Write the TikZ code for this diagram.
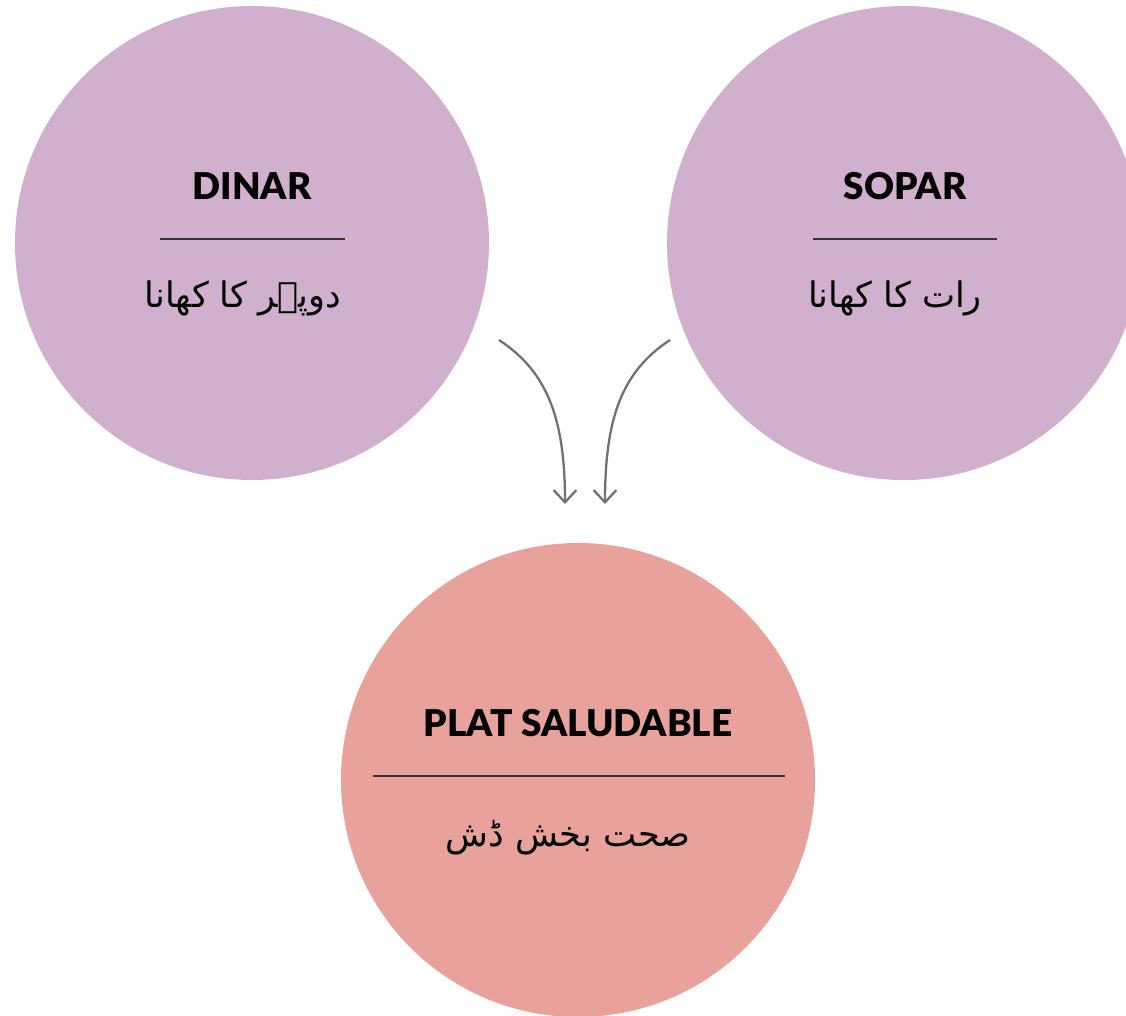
\documentclass[tikz,border=0pt]{standalone}
\usepackage{fontspec}
\setmainfont{Lato}[BoldFont={Lato Black}]
\newfontfamily\urdufont[Script=Arabic]{DejaVu Sans}
\TeXXeTstate=1
\usepackage{tikz}
\usetikzlibrary{arrows.meta,positioning}

\definecolor{mealpurple}{HTML}{D1B0CD}
\definecolor{dishpink}{HTML}{E8A19B}
\definecolor{arrowgrey}{HTML}{707070}

\tikzset{
    meal/.style={circle, draw=none, fill=mealpurple, minimum size=474*0.02cm, inner sep=0pt},
    dish/.style={meal, fill=dishpink},
    title/.style={draw=none, font=\fontsize{21}{24}\selectfont\bfseries},
    urdu/.style={draw=none, font=\fontsize{20}{26}\selectfont\urdufont},
    rule/.style={draw=black!80, line width=0.6pt},
    flow/.style={draw=arrowgrey, line width=1.3pt, -{Straight Barb[length=7pt,width=13pt,line width=1.3pt]}}
}

\begin{document}
\begin{tikzpicture}[x=0.02cm, y=-0.02cm, node distance=1cm, auto]
    	\useasboundingbox (0,0) rectangle (1126,1015);
    	\clip (0,0) rectangle (1126,1015);

    	% three circles
    	\node[meal] (lunch) at (252,243) {};
    	\node[meal] (dinner) at (904,243) {};
    	\node[dish] (healthy) at (578,780) {};

    	% lunch
    	\node[title] (lunchtitle) at (252,186) {DINAR};
    	\coordinate (lunchruleL) at (160,239);
    	\coordinate (lunchruleR) at (345,239);
    	\node[urdu] (lunchurdu) at (243,298) {\beginR دوپہر کا کھانا\endR};

    	% dinner
    	\node[title] (dinnertitle) at (905,186) {SOPAR};
    	\coordinate (dinnerruleL) at (813,239);
    	\coordinate (dinnerruleR) at (997,239);
    	\node[urdu] (dinnerurdu) at (895,298) {\beginR رات کا کھانا\endR};

    	% healthy dish
    	\node[title] (healthytitle) at (578,723) {PLAT SALUDABLE};
    	\coordinate (healthyruleL) at (373,776);
    	\coordinate (healthyruleR) at (785,776);
    	\node[urdu] (healthyurdu) at (568,838) {\beginR صحت بخش ڈش\endR};

    	\draw[rule] (lunchruleL) -- (lunchruleR);
    	\draw[rule] (dinnerruleL) -- (dinnerruleR);
    	\draw[rule] (healthyruleL) -- (healthyruleR);

    	% arrows into the dish
    	\coordinate (fromlunch) at (499,340);
    	\coordinate (tolunch) at (565,504);
    	\coordinate (fromdinner) at (670,340);
    	\coordinate (todinner) at (605,504);

    	\draw[flow] (fromlunch) .. controls (548,372) and (565,420) .. (tolunch);
    	\draw[flow] (fromdinner) .. controls (621,372) and (605,420) .. (todinner);
    \end{tikzpicture}
\end{document}
